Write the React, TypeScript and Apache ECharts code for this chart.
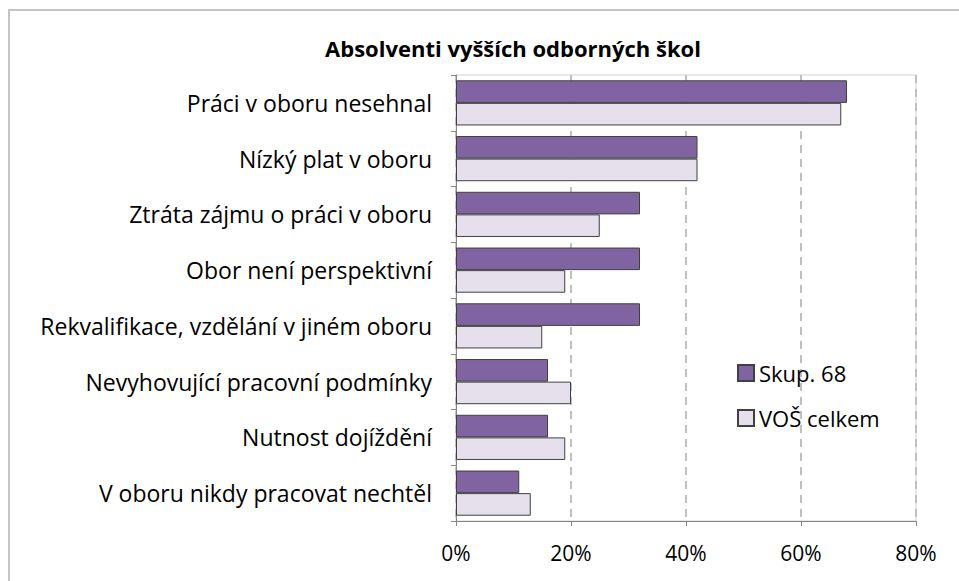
import React, { useEffect, useRef } from "react";
import * as echarts from "echarts";

const categories = [
  "Práci v oboru nesehnal",
  "Nízký plat v oboru",
  "Ztráta zájmu o práci v oboru",
  "Obor není perspektivní",
  "Rekvalifikace, vzdělání v jiném oboru",
  "Nevyhovující pracovní podmínky",
  "Nutnost dojíždění",
  "V oboru nikdy pracovat nechtěl",
];
const skup68 = [68, 42, 32, 32, 32, 16, 16, 11];
const vosCelkem = [67, 42, 25, 19, 15, 20, 19, 13];
const seriesNames = ["Skup. 68", "VOŠ celkem"];
const titleText = "Absolventi vyšších odborných škol";

const FONT = "'Open Sans', 'Noto Sans', sans-serif";

export default function App() {
  const ref = useRef<HTMLDivElement>(null);
  useEffect(() => {
    document.body.style.margin = "0";
    const chart = echarts.init(ref.current!, null, { renderer: "svg" });
    chart.setOption({
      animation: false,
      backgroundColor: "#ffffff",
      title: {
        text: titleText,
        left: 508,
        textAlign: "center",
        top: 32,
        textStyle: { fontFamily: FONT, fontSize: 22, fontWeight: "bold", color: "#000" },
      },
      graphic: [
        {
          type: "rect",
          shape: { x: 9, y: 10, width: 1000, height: 1000 },
          style: { fill: "none", stroke: "#c4c4c4", lineWidth: 2 },
          z: 100,
        },
      ],
      legend: {
        orient: "vertical",
        left: 732,
        top: 357,
        icon: "rect",
        itemWidth: 16,
        itemHeight: 16,
        itemGap: 23,
        data: seriesNames,
        textStyle: { fontFamily: FONT, fontSize: 22, color: "#000", padding: [0, 0, 0, 0] },
      },
      grid: {
        left: 456,
        right: 43,
        top: 75,
        bottom: 60,
        show: true,
        borderColor: "#d0d0d0",
        borderWidth: 1,
      },
      xAxis: {
        type: "value",
        min: 0,
        max: 80,
        interval: 20,
        axisLine: { show: true, lineStyle: { color: "#868686" } },
        axisTick: { show: true, length: 5, lineStyle: { color: "#868686" } },
        axisLabel: {
          formatter: "{value}%",
          fontFamily: FONT,
          fontSize: 21,
          color: "#000",
          margin: 21,
        },
        splitLine: { show: true, lineStyle: { color: "#c0c0c0", type: [8, 6], width: 2 } },
      },
      yAxis: {
        type: "category",
        data: categories,
        inverse: true,
        axisLine: { show: true, lineStyle: { color: "#868686" } },
        axisTick: { show: true, length: 5, lineStyle: { color: "#868686" } },
        axisLabel: { fontFamily: FONT, fontSize: 23, color: "#000", margin: 24 },
      },
      series: [
        {
          name: seriesNames[0],
          type: "bar",
          data: skup68,
          barGap: "0%",
          barCategoryGap: "19%",
          itemStyle: { color: "#8064A2", borderColor: "#404040", borderWidth: 1 },
        },
        {
          name: seriesNames[1],
          type: "bar",
          data: vosCelkem,
          barGap: "0%",
          barCategoryGap: "19%",
          itemStyle: { color: "#E5E0EC", borderColor: "#404040", borderWidth: 1 },
        },
      ],
    });
    return () => chart.dispose();
  }, []);
  return <div ref={ref} style={{ width: 959, height: 581 }} />;
}
